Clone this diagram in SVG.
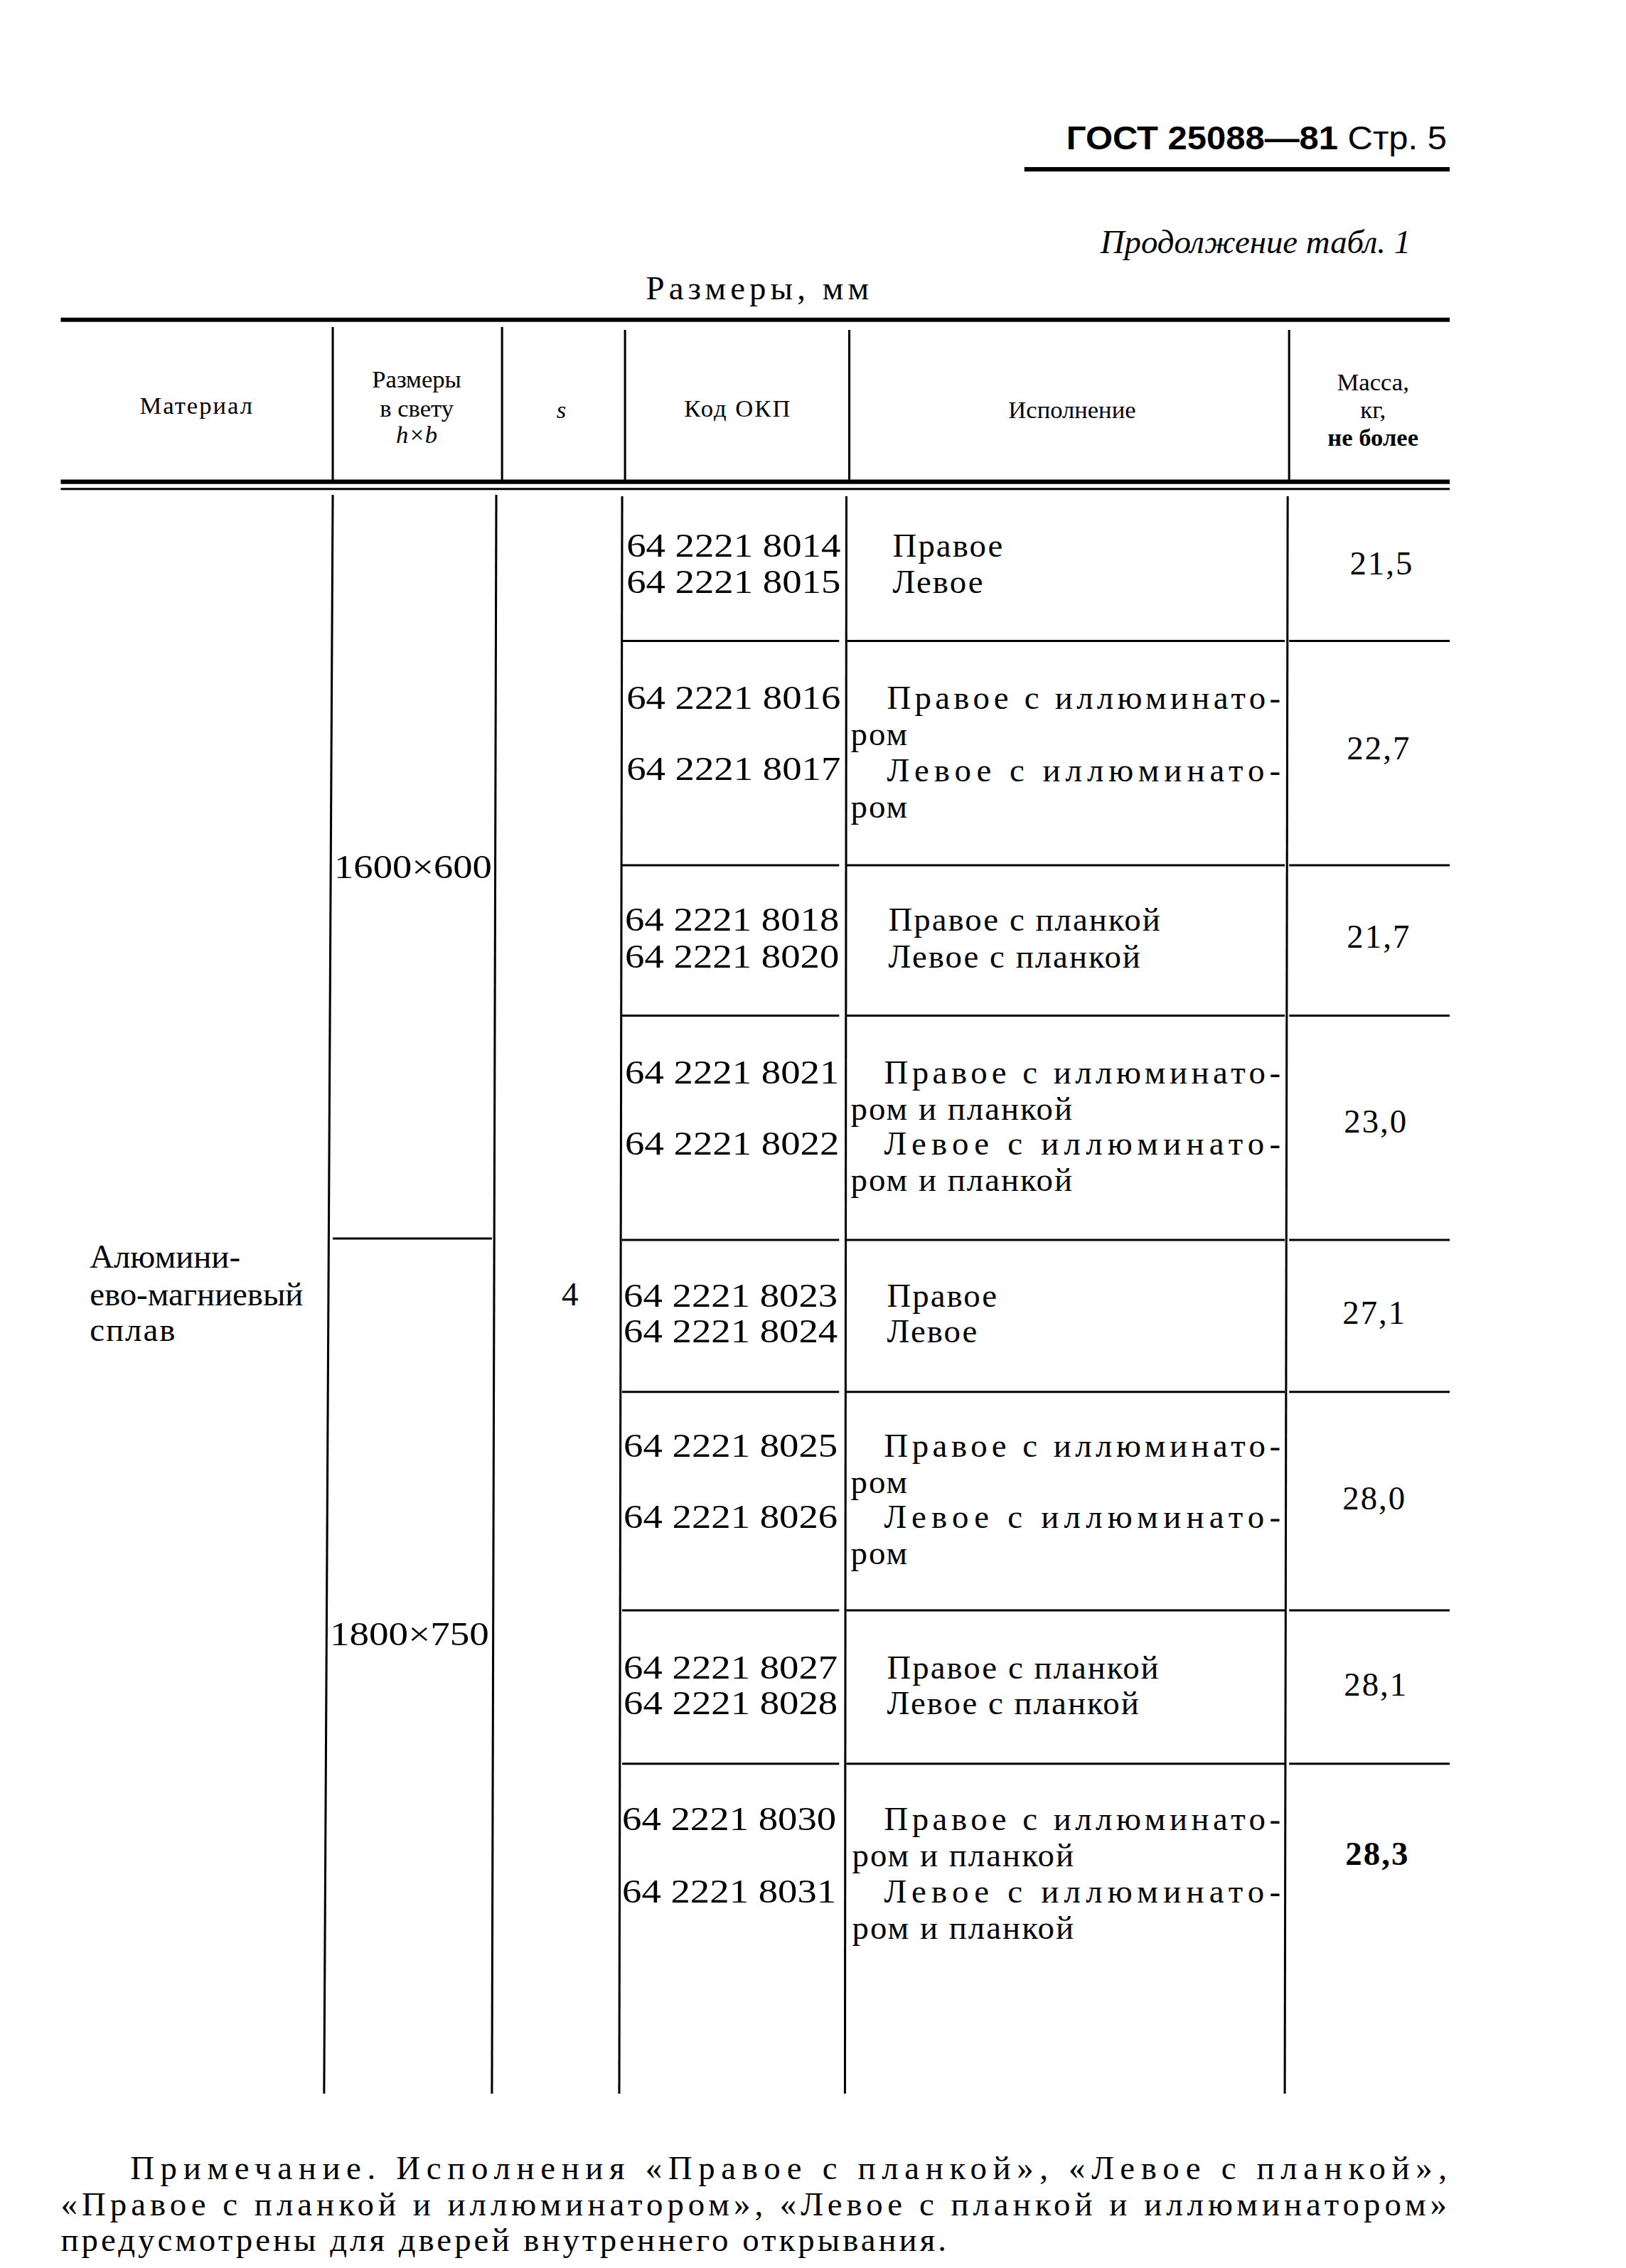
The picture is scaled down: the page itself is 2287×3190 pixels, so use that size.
<svg xmlns="http://www.w3.org/2000/svg" width="2287" height="3190" viewBox="0 0 2287 3190">
<style>
text{font-family:"Liberation Serif","DejaVu Serif",serif;fill:#000}
.b{font-size:23px}
.h{font-size:17px;font-family:"Liberation Sans","DejaVu Sans",sans-serif}
.m{text-anchor:middle}
line{stroke:#000;stroke-width:1.5}
.t{stroke-width:3}
</style>
<rect width="2287" height="3190" fill="#fff"/>
<g transform="scale(2.035)">
<g id="header">
<text x="737" y="103" style="font-family:'Liberation Sans Narrow','Liberation Sans',sans-serif;font-size:23px;font-weight:bold" textLength="263" lengthAdjust="spacingAndGlyphs">ГОСТ 25088—81 <tspan font-weight="normal">Стр. 5</tspan></text>
<line class="t" x1="708" y1="117" x2="1002" y2="117"/>
<text x="975" y="175" style="font-style:italic;font-size:23px;text-anchor:end">Продолжение табл. 1</text>
<text x="525" y="207" class="b m" letter-spacing="3">Размеры, мм</text>
</g>
<g id="connectors">
<line class="t" x1="42" y1="221" x2="1002" y2="221"/>
<line x1="230" y1="226" x2="230" y2="332"/><line x1="347" y1="226" x2="347" y2="333"/>
<line x1="432" y1="228" x2="432" y2="333"/><line x1="587" y1="228" x2="587" y2="333"/>
<line x1="891" y1="228" x2="891" y2="333"/>
<line class="t" x1="42" y1="333" x2="1002" y2="333"/><line x1="42" y1="338" x2="1002" y2="338"/>
<line x1="230" y1="342" x2="224" y2="1447"/><line x1="343" y1="342" x2="340" y2="1447"/>
<line x1="430" y1="343" x2="428" y2="1447"/><line x1="585" y1="343" x2="584" y2="1447"/>
<line x1="890" y1="343" x2="888" y2="1447"/>
<line x1="230" y1="856" x2="340" y2="856"/>
<g id="rowlines">
<line x1="430" y1="443" x2="580" y2="443"/><line x1="585" y1="443" x2="888" y2="443"/><line x1="891" y1="443" x2="1002" y2="443"/>
<line x1="430" y1="598" x2="580" y2="598"/><line x1="585" y1="598" x2="888" y2="598"/><line x1="891" y1="598" x2="1002" y2="598"/>
<line x1="430" y1="702" x2="580" y2="702"/><line x1="585" y1="702" x2="888" y2="702"/><line x1="891" y1="702" x2="1002" y2="702"/>
<line x1="430" y1="857" x2="580" y2="857"/><line x1="585" y1="857" x2="888" y2="857"/><line x1="891" y1="857" x2="1002" y2="857"/>
<line x1="430" y1="962" x2="580" y2="962"/><line x1="585" y1="962" x2="888" y2="962"/><line x1="891" y1="962" x2="1002" y2="962"/>
<line x1="430" y1="1113" x2="580" y2="1113"/><line x1="585" y1="1113" x2="888" y2="1113"/><line x1="891" y1="1113" x2="1002" y2="1113"/>
<line x1="430" y1="1219" x2="580" y2="1219"/><line x1="585" y1="1219" x2="888" y2="1219"/><line x1="891" y1="1219" x2="1002" y2="1219"/>
</g>
</g>
<g id="head-cells" class="h">
<text x="136" y="286" class="m" letter-spacing="1">Материал</text>
<text x="288" y="268" class="m">Размеры</text><text x="288" y="288" class="m">в свету</text><text x="288" y="306" class="m" font-style="italic">h×b</text>
<text x="388" y="289" class="m" font-style="italic">s</text>
<text x="510" y="288" class="m" letter-spacing="1">Код ОКП</text>
<text x="741" y="289" class="m">Исполнение</text>
<text x="949" y="270" class="m">Масса,</text><text x="949" y="289" class="m">кг,</text><text x="949" y="308" class="m" font-weight="bold">не более</text>
</g>
<g id="col-material" class="b">
<text x="62" y="876">Алюмини-</text><text x="62" y="902">ево-магниевый</text><text x="62" y="927" letter-spacing="1">сплав</text>
<text x="231" y="607" textLength="109" lengthAdjust="spacingAndGlyphs">1600×600</text>
<text x="228" y="1137" textLength="110" lengthAdjust="spacingAndGlyphs">1800×750</text>
<text x="394" y="902" class="m">4</text>
</g>
<g id="codes" class="b">
<text x="433" y="385" textLength="148" lengthAdjust="spacingAndGlyphs">64 2221 8014</text>
<text x="433" y="410" textLength="148" lengthAdjust="spacingAndGlyphs">64 2221 8015</text>
<text x="433" y="490" textLength="148" lengthAdjust="spacingAndGlyphs">64 2221 8016</text>
<text x="433" y="539" textLength="148" lengthAdjust="spacingAndGlyphs">64 2221 8017</text>
<text x="432" y="643" textLength="148" lengthAdjust="spacingAndGlyphs">64 2221 8018</text>
<text x="432" y="669" textLength="148" lengthAdjust="spacingAndGlyphs">64 2221 8020</text>
<text x="432" y="749" textLength="148" lengthAdjust="spacingAndGlyphs">64 2221 8021</text>
<text x="432" y="798" textLength="148" lengthAdjust="spacingAndGlyphs">64 2221 8022</text>
<text x="431" y="903" textLength="148" lengthAdjust="spacingAndGlyphs">64 2221 8023</text>
<text x="431" y="928" textLength="148" lengthAdjust="spacingAndGlyphs">64 2221 8024</text>
<text x="431" y="1007" textLength="148" lengthAdjust="spacingAndGlyphs">64 2221 8025</text>
<text x="431" y="1056" textLength="148" lengthAdjust="spacingAndGlyphs">64 2221 8026</text>
<text x="431" y="1160" textLength="148" lengthAdjust="spacingAndGlyphs">64 2221 8027</text>
<text x="431" y="1185" textLength="148" lengthAdjust="spacingAndGlyphs">64 2221 8028</text>
<text x="430" y="1265" textLength="148" lengthAdjust="spacingAndGlyphs">64 2221 8030</text>
<text x="430" y="1315" textLength="148" lengthAdjust="spacingAndGlyphs">64 2221 8031</text>
</g>
<g id="exec" class="b" letter-spacing="1">
<text x="617" y="385">Правое</text><text x="617" y="410">Левое</text>
<text x="613" y="490" textLength="273">Правое с иллюминато-</text><text x="588" y="515">ром</text>
<text x="613" y="540" textLength="273">Левое с иллюминато-</text><text x="588" y="565">ром</text>
<text x="614" y="643">Правое с планкой</text><text x="614" y="669">Левое с планкой</text>
<text x="611" y="749" textLength="275">Правое с иллюминато-</text><text x="588" y="774">ром и планкой</text>
<text x="611" y="798" textLength="275">Левое с иллюминато-</text><text x="588" y="823">ром и планкой</text>
<text x="613" y="903">Правое</text><text x="613" y="928">Левое</text>
<text x="611" y="1007" textLength="275">Правое с иллюминато-</text><text x="588" y="1032">ром</text>
<text x="611" y="1056" textLength="275">Левое с иллюминато-</text><text x="588" y="1081">ром</text>
<text x="613" y="1160">Правое с планкой</text><text x="613" y="1185">Левое с планкой</text>
<text x="611" y="1265" textLength="275">Правое с иллюминато-</text><text x="589" y="1290">ром и планкой</text>
<text x="611" y="1315" textLength="275">Левое с иллюминато-</text><text x="589" y="1340">ром и планкой</text>
</g>
<g id="mass" class="b m" letter-spacing="1">
<text x="955" y="397">21,5</text><text x="953" y="525">22,7</text><text x="953" y="655">21,7</text>
<text x="951" y="783">23,0</text><text x="950" y="915">27,1</text><text x="950" y="1043">28,0</text>
<text x="951" y="1172">28,1</text><text x="952" y="1289" font-weight="bold">28,3</text>
</g>
<g id="note" class="b">
<text x="90" y="1506" textLength="910">Примечание. Исполнения «Правое с планкой», «Левое с планкой»,</text>
<text x="42" y="1531" textLength="958">«Правое с планкой и иллюминатором», «Левое с планкой и иллюминатором»</text>
<text x="42" y="1556" textLength="612">предусмотрены для дверей внутреннего открывания.</text>
</g>
</g>
</svg>
